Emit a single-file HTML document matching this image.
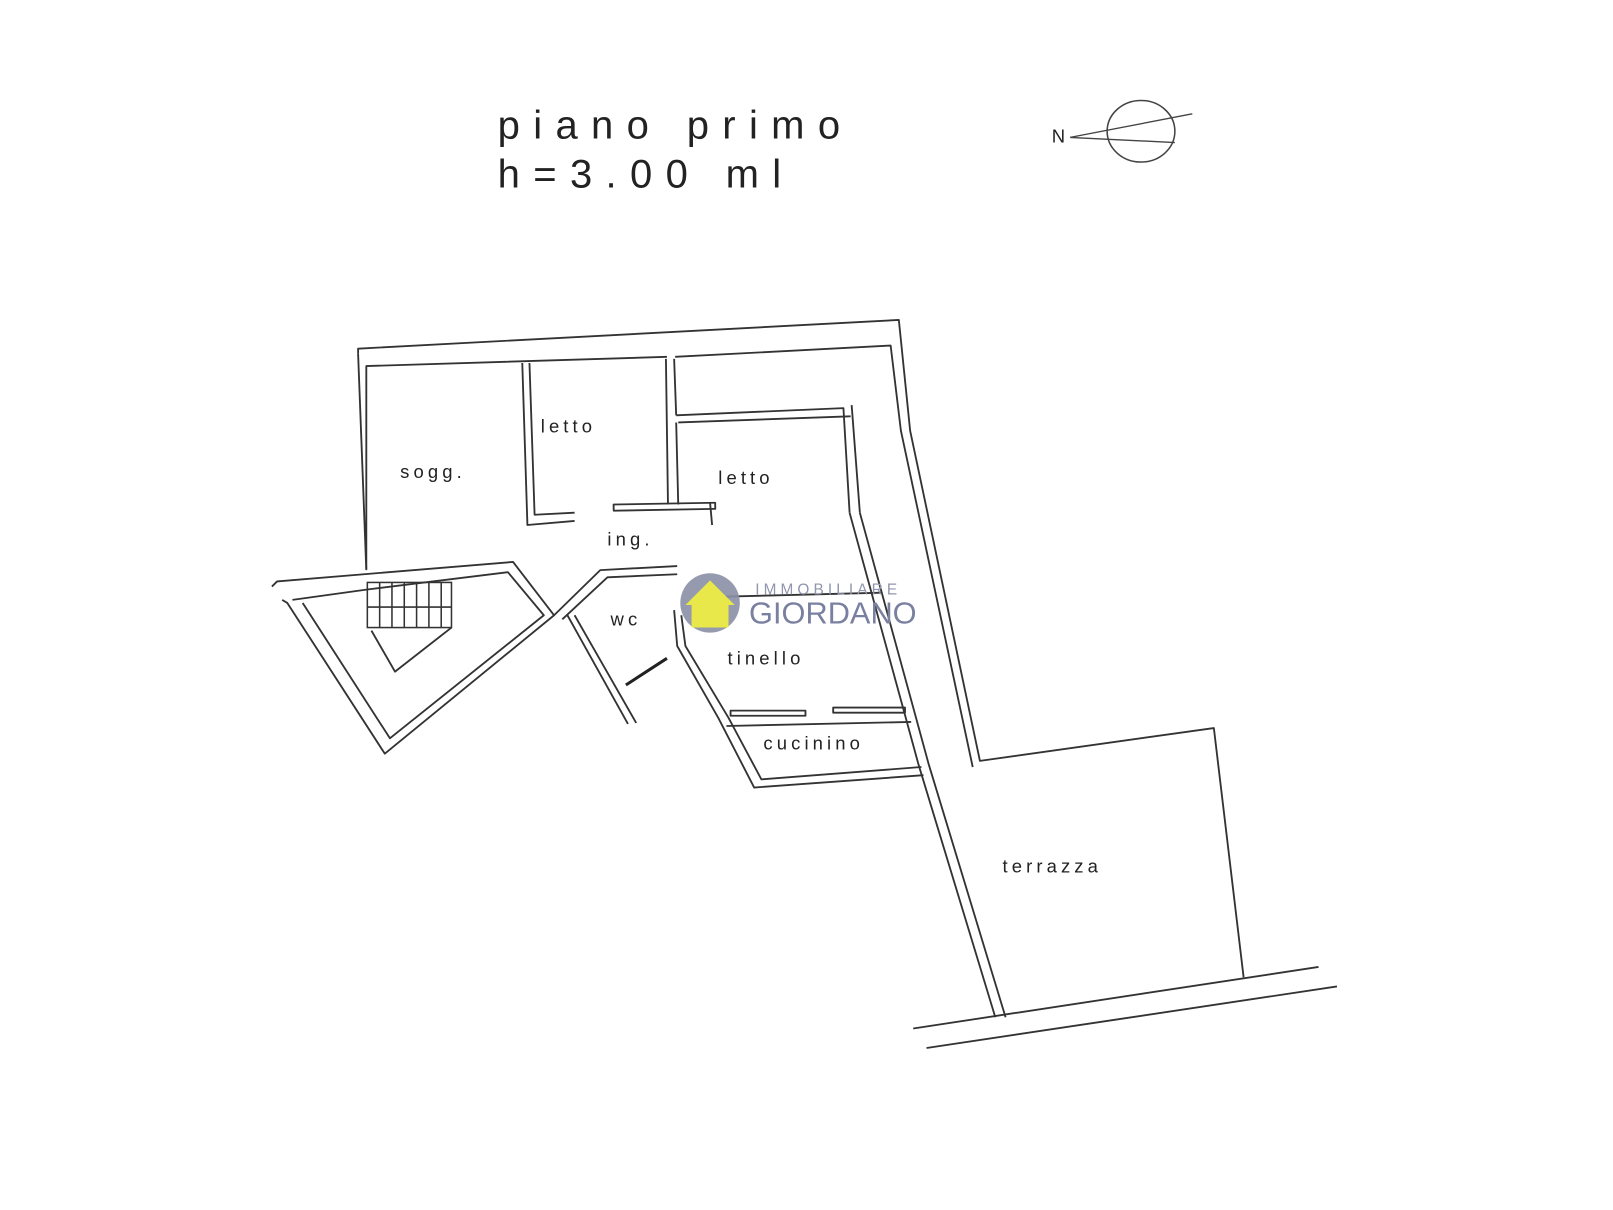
<!DOCTYPE html>
<html><head><meta charset="utf-8"><style>
html,body{margin:0;padding:0;background:#fff;width:1613px;height:1210px;overflow:hidden}
svg{display:block}
text{font-family:"Liberation Sans",sans-serif;fill:#222}
</style></head><body>
<svg width="1613" height="1210" viewBox="0 0 1572 1180" preserveAspectRatio="none">
<g fill="none" stroke="#333" stroke-width="1.8" stroke-linejoin="round">
<polyline points="349,345 349,340 876,312 887,420 955,742 1183,710 1212,953"/>
<polyline points="357,555 357,357 650,348"/>
<polyline points="658,348 868,337 878,420 948,748"/>
<line x1="349" y1="345" x2="357" y2="556"/>
<polyline points="509,354 514,512 560,508"/>
<polyline points="516,354 521,502 560,500"/>
<rect x="598" y="492" width="99" height="6" transform="rotate(-1 598 492)"/>
<line x1="649" y1="350" x2="651" y2="492"/>
<line x1="657" y1="350" x2="659" y2="405"/>
<polyline points="659,412 661,492"/>
<line x1="692" y1="490" x2="694" y2="512"/>
<polyline points="659,405 822,398 828,500"/>
<polyline points="661,412 829,406"/>
<polyline points="830,395 838,500"/>
<polyline points="828,500 880,690 895,745 970,992"/>
<polyline points="838,500 890,690 905,745 980,992"/>
<polyline points="265,572 270,567 500,548 540,600 375,735 280,588 275,585"/>
<polyline points="285,585 357,575 495,558 530,600 380,720 295,588"/>
<polyline points="362,615 385,655 440,612"/>
<polyline points="540,600 585,556 660,552"/>
<polyline points="548,604 592,563 660,560"/>
<polyline points="553,600 612,706"/>
<polyline points="560,600 620,705"/>
<polyline points="657,595 660,630 700,700 735,768 900,756"/>
<polyline points="664,600 668,630 710,700 742,760 898,748"/>
<polyline points="700,582 860,578"/>
<rect x="712" y="693" width="73" height="5"/>
<rect x="812" y="690" width="70" height="5"/>
<polyline points="708,708 888,704"/>
<line x1="890" y1="1003" x2="1285" y2="943"/>
<line x1="903" y1="1022" x2="1303" y2="962"/>
</g>
<g stroke="#333" stroke-width="1.5" fill="none">
<rect x="358" y="568" width="82" height="44"/>
<line x1="370" y1="568" x2="370" y2="612"/><line x1="382" y1="568" x2="382" y2="612"/>
<line x1="394" y1="568" x2="394" y2="612"/><line x1="406" y1="568" x2="406" y2="612"/>
<line x1="418" y1="568" x2="418" y2="612"/><line x1="430" y1="568" x2="430" y2="612"/>
<line x1="358" y1="592" x2="440" y2="592"/>
</g>
<line x1="610" y1="668" x2="650" y2="642" stroke="#222" stroke-width="3"/>
<text x="485" y="135" font-size="39" letter-spacing="13">piano primo</text>
<text x="485" y="183" font-size="39" letter-spacing="13">h=3.00 ml</text>
<text x="1025" y="139" font-size="18">N</text>
<ellipse cx="1112" cy="128" rx="33" ry="30" fill="none" stroke="#444" stroke-width="1.5"/>
<line x1="1043" y1="134" x2="1162" y2="111" stroke="#444" stroke-width="1.3"/>
<line x1="1043" y1="134" x2="1145" y2="139" stroke="#444" stroke-width="1.3"/>
<g font-size="18" letter-spacing="4">
<text x="390" y="466">sogg.</text>
<text x="527" y="422">letto</text>
<text x="700" y="472">letto</text>
<text x="592" y="532">ing.</text>
<text x="595" y="610">wc</text>
<text x="709" y="648">tinello</text>
<text x="744" y="731">cucinino</text>
<text x="977" y="851">terrazza</text>
</g>
<circle cx="692" cy="588" r="29" fill="#8a8fa6" opacity="0.9"/>
<polygon points="668,590 692,566 716,590 710,590 710,612 674,612 674,590" fill="#e8e84a"/>
<text x="736" y="580" font-size="15" letter-spacing="4" style="fill:#9096ae">IMMOBILIARE</text>
<text x="730" y="608" font-size="30" style="fill:#7a80a0">GIORDANO</text>
</svg>
</body></html>
